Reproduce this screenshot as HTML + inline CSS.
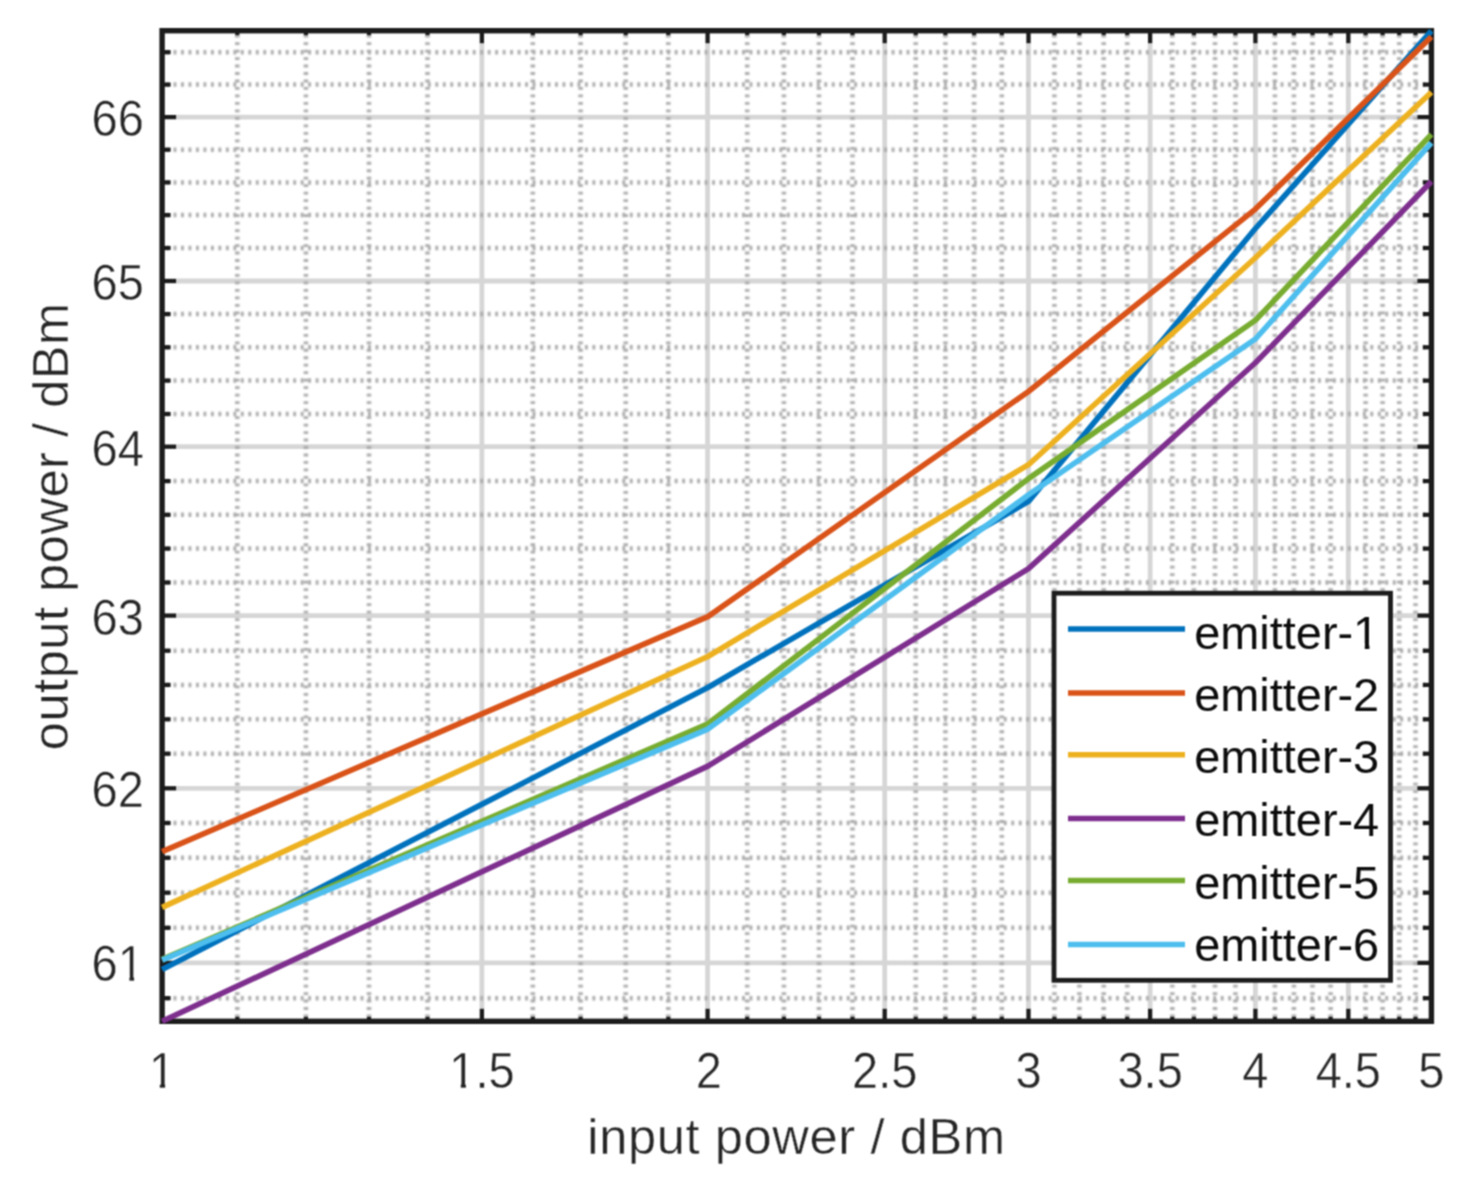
<!DOCTYPE html>
<html><head><meta charset="utf-8"><title>output power vs input power</title>
<style>html,body{margin:0;padding:0;background:#fff}body{width:1471px;height:1188px;overflow:hidden}svg{display:block}.t{font-family:"Liberation Sans",Arial,Helvetica,sans-serif}</style>
</head><body>
<svg width="1471" height="1188" viewBox="0 0 1471 1188">
<rect width="1471" height="1188" fill="#fff"/>
<filter id="b" x="0" y="0" width="1471" height="1188" filterUnits="userSpaceOnUse" color-interpolation-filters="sRGB"><feConvolveMatrix order="3" kernelMatrix="1 2 1 2 4 2 1 2 1" divisor="16" edgeMode="duplicate" preserveAlpha="false"/></filter>
<g filter="url(#b)">
<g stroke="#d6d6d6" stroke-width="4.8">
<line x1="481.9" y1="30.7" x2="481.9" y2="1021.3"/>
<line x1="707.6" y1="30.7" x2="707.6" y2="1021.3"/>
<line x1="884.7" y1="30.7" x2="884.7" y2="1021.3"/>
<line x1="1028.5" y1="30.7" x2="1028.5" y2="1021.3"/>
<line x1="1150.1" y1="30.7" x2="1150.1" y2="1021.3"/>
<line x1="1255.4" y1="30.7" x2="1255.4" y2="1021.3"/>
<line x1="1348.3" y1="30.7" x2="1348.3" y2="1021.3"/>
<line x1="162.1" y1="962.9" x2="1431.4" y2="962.9"/>
<line x1="162.1" y1="788.3" x2="1431.4" y2="788.3"/>
<line x1="162.1" y1="615.6" x2="1431.4" y2="615.6"/>
<line x1="162.1" y1="446.7" x2="1431.4" y2="446.7"/>
<line x1="162.1" y1="281.0" x2="1431.4" y2="281.0"/>
<line x1="162.1" y1="117.1" x2="1431.4" y2="117.1"/>
</g>
<g filter="url(#b)" stroke="#a9a9a9" stroke-width="4.5" stroke-dasharray="2.8 4.68">
<line x1="237.3" y1="34.7" x2="237.3" y2="1021.3"/>
<line x1="305.9" y1="34.7" x2="305.9" y2="1021.3"/>
<line x1="369.0" y1="34.7" x2="369.0" y2="1021.3"/>
<line x1="427.5" y1="34.7" x2="427.5" y2="1021.3"/>
<line x1="532.8" y1="34.7" x2="532.8" y2="1021.3"/>
<line x1="580.6" y1="34.7" x2="580.6" y2="1021.3"/>
<line x1="625.7" y1="34.7" x2="625.7" y2="1021.3"/>
<line x1="668.3" y1="34.7" x2="668.3" y2="1021.3"/>
<line x1="747.2" y1="34.7" x2="747.2" y2="1021.3"/>
<line x1="783.9" y1="34.7" x2="783.9" y2="1021.3"/>
<line x1="819.0" y1="34.7" x2="819.0" y2="1021.3"/>
<line x1="852.5" y1="34.7" x2="852.5" y2="1021.3"/>
<line x1="915.7" y1="34.7" x2="915.7" y2="1021.3"/>
<line x1="945.4" y1="34.7" x2="945.4" y2="1021.3"/>
<line x1="974.1" y1="34.7" x2="974.1" y2="1021.3"/>
<line x1="1001.8" y1="34.7" x2="1001.8" y2="1021.3"/>
<line x1="1054.4" y1="34.7" x2="1054.4" y2="1021.3"/>
<line x1="1079.4" y1="34.7" x2="1079.4" y2="1021.3"/>
<line x1="1103.7" y1="34.7" x2="1103.7" y2="1021.3"/>
<line x1="1127.2" y1="34.7" x2="1127.2" y2="1021.3"/>
<line x1="1172.3" y1="34.7" x2="1172.3" y2="1021.3"/>
<line x1="1193.9" y1="34.7" x2="1193.9" y2="1021.3"/>
<line x1="1215.0" y1="34.7" x2="1215.0" y2="1021.3"/>
<line x1="1235.4" y1="34.7" x2="1235.4" y2="1021.3"/>
<line x1="1274.9" y1="34.7" x2="1274.9" y2="1021.3"/>
<line x1="1293.9" y1="34.7" x2="1293.9" y2="1021.3"/>
<line x1="1312.5" y1="34.7" x2="1312.5" y2="1021.3"/>
<line x1="1330.6" y1="34.7" x2="1330.6" y2="1021.3"/>
<line x1="1365.6" y1="34.7" x2="1365.6" y2="1021.3"/>
<line x1="1382.6" y1="34.7" x2="1382.6" y2="1021.3"/>
<line x1="1399.2" y1="34.7" x2="1399.2" y2="1021.3"/>
<line x1="1415.5" y1="34.7" x2="1415.5" y2="1021.3"/>
<line x1="166.1" y1="998.2" x2="1431.4" y2="998.2"/>
<line x1="166.1" y1="927.8" x2="1431.4" y2="927.8"/>
<line x1="166.1" y1="892.7" x2="1431.4" y2="892.7"/>
<line x1="166.1" y1="857.8" x2="1431.4" y2="857.8"/>
<line x1="166.1" y1="823.0" x2="1431.4" y2="823.0"/>
<line x1="166.1" y1="753.7" x2="1431.4" y2="753.7"/>
<line x1="166.1" y1="719.3" x2="1431.4" y2="719.3"/>
<line x1="166.1" y1="684.9" x2="1431.4" y2="684.9"/>
<line x1="166.1" y1="650.7" x2="1431.4" y2="650.7"/>
<line x1="166.1" y1="582.5" x2="1431.4" y2="582.5"/>
<line x1="166.1" y1="548.6" x2="1431.4" y2="548.6"/>
<line x1="166.1" y1="514.8" x2="1431.4" y2="514.8"/>
<line x1="166.1" y1="481.1" x2="1431.4" y2="481.1"/>
<line x1="166.1" y1="414.0" x2="1431.4" y2="414.0"/>
<line x1="166.1" y1="380.6" x2="1431.4" y2="380.6"/>
<line x1="166.1" y1="347.3" x2="1431.4" y2="347.3"/>
<line x1="166.1" y1="314.1" x2="1431.4" y2="314.1"/>
<line x1="166.1" y1="248.0" x2="1431.4" y2="248.0"/>
<line x1="166.1" y1="215.1" x2="1431.4" y2="215.1"/>
<line x1="166.1" y1="182.4" x2="1431.4" y2="182.4"/>
<line x1="166.1" y1="149.7" x2="1431.4" y2="149.7"/>
<line x1="166.1" y1="84.6" x2="1431.4" y2="84.6"/>
<line x1="166.1" y1="52.2" x2="1431.4" y2="52.2"/>
</g>
<clipPath id="c"><rect x="159.1" y="27.7" width="1275.3" height="996.6"/></clipPath>
<g stroke="#1c1c1c" stroke-width="4.2">
<line x1="481.9" y1="1021.3" x2="481.9" y2="1008.8"/>
<line x1="481.9" y1="30.7" x2="481.9" y2="43.2"/>
<line x1="707.6" y1="1021.3" x2="707.6" y2="1008.8"/>
<line x1="707.6" y1="30.7" x2="707.6" y2="43.2"/>
<line x1="884.7" y1="1021.3" x2="884.7" y2="1008.8"/>
<line x1="884.7" y1="30.7" x2="884.7" y2="43.2"/>
<line x1="1028.5" y1="1021.3" x2="1028.5" y2="1008.8"/>
<line x1="1028.5" y1="30.7" x2="1028.5" y2="43.2"/>
<line x1="1150.1" y1="1021.3" x2="1150.1" y2="1008.8"/>
<line x1="1150.1" y1="30.7" x2="1150.1" y2="43.2"/>
<line x1="1255.4" y1="1021.3" x2="1255.4" y2="1008.8"/>
<line x1="1255.4" y1="30.7" x2="1255.4" y2="43.2"/>
<line x1="1348.3" y1="1021.3" x2="1348.3" y2="1008.8"/>
<line x1="1348.3" y1="30.7" x2="1348.3" y2="43.2"/>
<line x1="237.3" y1="1021.3" x2="237.3" y2="1016.8"/>
<line x1="237.3" y1="30.7" x2="237.3" y2="35.2"/>
<line x1="305.9" y1="1021.3" x2="305.9" y2="1016.8"/>
<line x1="305.9" y1="30.7" x2="305.9" y2="35.2"/>
<line x1="369.0" y1="1021.3" x2="369.0" y2="1016.8"/>
<line x1="369.0" y1="30.7" x2="369.0" y2="35.2"/>
<line x1="427.5" y1="1021.3" x2="427.5" y2="1016.8"/>
<line x1="427.5" y1="30.7" x2="427.5" y2="35.2"/>
<line x1="532.8" y1="1021.3" x2="532.8" y2="1016.8"/>
<line x1="532.8" y1="30.7" x2="532.8" y2="35.2"/>
<line x1="580.6" y1="1021.3" x2="580.6" y2="1016.8"/>
<line x1="580.6" y1="30.7" x2="580.6" y2="35.2"/>
<line x1="625.7" y1="1021.3" x2="625.7" y2="1016.8"/>
<line x1="625.7" y1="30.7" x2="625.7" y2="35.2"/>
<line x1="668.3" y1="1021.3" x2="668.3" y2="1016.8"/>
<line x1="668.3" y1="30.7" x2="668.3" y2="35.2"/>
<line x1="747.2" y1="1021.3" x2="747.2" y2="1016.8"/>
<line x1="747.2" y1="30.7" x2="747.2" y2="35.2"/>
<line x1="783.9" y1="1021.3" x2="783.9" y2="1016.8"/>
<line x1="783.9" y1="30.7" x2="783.9" y2="35.2"/>
<line x1="819.0" y1="1021.3" x2="819.0" y2="1016.8"/>
<line x1="819.0" y1="30.7" x2="819.0" y2="35.2"/>
<line x1="852.5" y1="1021.3" x2="852.5" y2="1016.8"/>
<line x1="852.5" y1="30.7" x2="852.5" y2="35.2"/>
<line x1="915.7" y1="1021.3" x2="915.7" y2="1016.8"/>
<line x1="915.7" y1="30.7" x2="915.7" y2="35.2"/>
<line x1="945.4" y1="1021.3" x2="945.4" y2="1016.8"/>
<line x1="945.4" y1="30.7" x2="945.4" y2="35.2"/>
<line x1="974.1" y1="1021.3" x2="974.1" y2="1016.8"/>
<line x1="974.1" y1="30.7" x2="974.1" y2="35.2"/>
<line x1="1001.8" y1="1021.3" x2="1001.8" y2="1016.8"/>
<line x1="1001.8" y1="30.7" x2="1001.8" y2="35.2"/>
<line x1="1054.4" y1="1021.3" x2="1054.4" y2="1016.8"/>
<line x1="1054.4" y1="30.7" x2="1054.4" y2="35.2"/>
<line x1="1079.4" y1="1021.3" x2="1079.4" y2="1016.8"/>
<line x1="1079.4" y1="30.7" x2="1079.4" y2="35.2"/>
<line x1="1103.7" y1="1021.3" x2="1103.7" y2="1016.8"/>
<line x1="1103.7" y1="30.7" x2="1103.7" y2="35.2"/>
<line x1="1127.2" y1="1021.3" x2="1127.2" y2="1016.8"/>
<line x1="1127.2" y1="30.7" x2="1127.2" y2="35.2"/>
<line x1="1172.3" y1="1021.3" x2="1172.3" y2="1016.8"/>
<line x1="1172.3" y1="30.7" x2="1172.3" y2="35.2"/>
<line x1="1193.9" y1="1021.3" x2="1193.9" y2="1016.8"/>
<line x1="1193.9" y1="30.7" x2="1193.9" y2="35.2"/>
<line x1="1215.0" y1="1021.3" x2="1215.0" y2="1016.8"/>
<line x1="1215.0" y1="30.7" x2="1215.0" y2="35.2"/>
<line x1="1235.4" y1="1021.3" x2="1235.4" y2="1016.8"/>
<line x1="1235.4" y1="30.7" x2="1235.4" y2="35.2"/>
<line x1="1274.9" y1="1021.3" x2="1274.9" y2="1016.8"/>
<line x1="1274.9" y1="30.7" x2="1274.9" y2="35.2"/>
<line x1="1293.9" y1="1021.3" x2="1293.9" y2="1016.8"/>
<line x1="1293.9" y1="30.7" x2="1293.9" y2="35.2"/>
<line x1="1312.5" y1="1021.3" x2="1312.5" y2="1016.8"/>
<line x1="1312.5" y1="30.7" x2="1312.5" y2="35.2"/>
<line x1="1330.6" y1="1021.3" x2="1330.6" y2="1016.8"/>
<line x1="1330.6" y1="30.7" x2="1330.6" y2="35.2"/>
<line x1="1365.6" y1="1021.3" x2="1365.6" y2="1016.8"/>
<line x1="1365.6" y1="30.7" x2="1365.6" y2="35.2"/>
<line x1="1382.6" y1="1021.3" x2="1382.6" y2="1016.8"/>
<line x1="1382.6" y1="30.7" x2="1382.6" y2="35.2"/>
<line x1="1399.2" y1="1021.3" x2="1399.2" y2="1016.8"/>
<line x1="1399.2" y1="30.7" x2="1399.2" y2="35.2"/>
<line x1="1415.5" y1="1021.3" x2="1415.5" y2="1016.8"/>
<line x1="1415.5" y1="30.7" x2="1415.5" y2="35.2"/>
<line x1="162.1" y1="962.9" x2="176.1" y2="962.9"/>
<line x1="1431.4" y1="962.9" x2="1417.4" y2="962.9"/>
<line x1="162.1" y1="788.3" x2="176.1" y2="788.3"/>
<line x1="1431.4" y1="788.3" x2="1417.4" y2="788.3"/>
<line x1="162.1" y1="615.6" x2="176.1" y2="615.6"/>
<line x1="1431.4" y1="615.6" x2="1417.4" y2="615.6"/>
<line x1="162.1" y1="446.7" x2="176.1" y2="446.7"/>
<line x1="1431.4" y1="446.7" x2="1417.4" y2="446.7"/>
<line x1="162.1" y1="281.0" x2="176.1" y2="281.0"/>
<line x1="1431.4" y1="281.0" x2="1417.4" y2="281.0"/>
<line x1="162.1" y1="117.1" x2="176.1" y2="117.1"/>
<line x1="1431.4" y1="117.1" x2="1417.4" y2="117.1"/>
<line x1="162.1" y1="998.2" x2="170.6" y2="998.2"/>
<line x1="1431.4" y1="998.2" x2="1422.9" y2="998.2"/>
<line x1="162.1" y1="927.8" x2="170.6" y2="927.8"/>
<line x1="1431.4" y1="927.8" x2="1422.9" y2="927.8"/>
<line x1="162.1" y1="892.7" x2="170.6" y2="892.7"/>
<line x1="1431.4" y1="892.7" x2="1422.9" y2="892.7"/>
<line x1="162.1" y1="857.8" x2="170.6" y2="857.8"/>
<line x1="1431.4" y1="857.8" x2="1422.9" y2="857.8"/>
<line x1="162.1" y1="823.0" x2="170.6" y2="823.0"/>
<line x1="1431.4" y1="823.0" x2="1422.9" y2="823.0"/>
<line x1="162.1" y1="753.7" x2="170.6" y2="753.7"/>
<line x1="1431.4" y1="753.7" x2="1422.9" y2="753.7"/>
<line x1="162.1" y1="719.3" x2="170.6" y2="719.3"/>
<line x1="1431.4" y1="719.3" x2="1422.9" y2="719.3"/>
<line x1="162.1" y1="684.9" x2="170.6" y2="684.9"/>
<line x1="1431.4" y1="684.9" x2="1422.9" y2="684.9"/>
<line x1="162.1" y1="650.7" x2="170.6" y2="650.7"/>
<line x1="1431.4" y1="650.7" x2="1422.9" y2="650.7"/>
<line x1="162.1" y1="582.5" x2="170.6" y2="582.5"/>
<line x1="1431.4" y1="582.5" x2="1422.9" y2="582.5"/>
<line x1="162.1" y1="548.6" x2="170.6" y2="548.6"/>
<line x1="1431.4" y1="548.6" x2="1422.9" y2="548.6"/>
<line x1="162.1" y1="514.8" x2="170.6" y2="514.8"/>
<line x1="1431.4" y1="514.8" x2="1422.9" y2="514.8"/>
<line x1="162.1" y1="481.1" x2="170.6" y2="481.1"/>
<line x1="1431.4" y1="481.1" x2="1422.9" y2="481.1"/>
<line x1="162.1" y1="414.0" x2="170.6" y2="414.0"/>
<line x1="1431.4" y1="414.0" x2="1422.9" y2="414.0"/>
<line x1="162.1" y1="380.6" x2="170.6" y2="380.6"/>
<line x1="1431.4" y1="380.6" x2="1422.9" y2="380.6"/>
<line x1="162.1" y1="347.3" x2="170.6" y2="347.3"/>
<line x1="1431.4" y1="347.3" x2="1422.9" y2="347.3"/>
<line x1="162.1" y1="314.1" x2="170.6" y2="314.1"/>
<line x1="1431.4" y1="314.1" x2="1422.9" y2="314.1"/>
<line x1="162.1" y1="248.0" x2="170.6" y2="248.0"/>
<line x1="1431.4" y1="248.0" x2="1422.9" y2="248.0"/>
<line x1="162.1" y1="215.1" x2="170.6" y2="215.1"/>
<line x1="1431.4" y1="215.1" x2="1422.9" y2="215.1"/>
<line x1="162.1" y1="182.4" x2="170.6" y2="182.4"/>
<line x1="1431.4" y1="182.4" x2="1422.9" y2="182.4"/>
<line x1="162.1" y1="149.7" x2="170.6" y2="149.7"/>
<line x1="1431.4" y1="149.7" x2="1422.9" y2="149.7"/>
<line x1="162.1" y1="84.6" x2="170.6" y2="84.6"/>
<line x1="1431.4" y1="84.6" x2="1422.9" y2="84.6"/>
<line x1="162.1" y1="52.2" x2="170.6" y2="52.2"/>
<line x1="1431.4" y1="52.2" x2="1422.9" y2="52.2"/>
</g>
<rect x="162.1" y="30.7" width="1269.3" height="990.6" fill="none" stroke="#1c1c1c" stroke-width="5.4"/>
<g clip-path="url(#c)" fill="none" stroke-width="5.6" stroke-linejoin="round">
<polyline stroke="#0072BD" points="162.1,969.6 707.9,687.5 1028.5,501.4 1255.4,228.5 1431.4,30.9"/>
<polyline stroke="#D95319" points="162.1,851.6 707.9,616.6 1028.5,391.5 1255.4,209.1 1431.4,36.8"/>
<polyline stroke="#EDB120" points="162.1,907.4 707.9,656.5 1028.5,464.7 1255.4,257.7 1431.4,92.2"/>
<polyline stroke="#7E2F8E" points="162.1,1021.3 707.9,766.1 1028.5,568.6 1255.4,362.8 1431.4,181.5"/>
<polyline stroke="#77AC30" points="162.1,959.4 707.9,723.8 1028.5,478.6 1255.4,320.3 1431.4,134.3"/>
<polyline stroke="#4DBEEE" points="162.1,960.2 707.9,729.1 1028.5,494.8 1255.4,339.0 1431.4,142.8"/>
</g>
<rect x="1054" y="593.2" width="336.5" height="387.1" fill="#fff" stroke="#1c1c1c" stroke-width="4.8"/>
<line x1="1068" y1="628.9" x2="1185" y2="628.9" stroke="#0072BD" stroke-width="5.5"/>
<line x1="1068" y1="693.0" x2="1185" y2="693.0" stroke="#D95319" stroke-width="5.5"/>
<line x1="1068" y1="754.8" x2="1185" y2="754.8" stroke="#EDB120" stroke-width="5.5"/>
<line x1="1068" y1="818.5" x2="1185" y2="818.5" stroke="#7E2F8E" stroke-width="5.5"/>
<line x1="1068" y1="880.5" x2="1185" y2="880.5" stroke="#77AC30" stroke-width="5.5"/>
<line x1="1068" y1="944.5" x2="1185" y2="944.5" stroke="#4DBEEE" stroke-width="5.5"/>
<g class="t" font-size="46" fill="#0c0c0c">
<text x="1194.2" y="648.9" textLength="185" lengthAdjust="spacingAndGlyphs">emitter-1</text>
<text x="1194.2" y="710.6" textLength="185" lengthAdjust="spacingAndGlyphs">emitter-2</text>
<text x="1194.2" y="772.9" textLength="185" lengthAdjust="spacingAndGlyphs">emitter-3</text>
<text x="1194.2" y="835.6" textLength="185" lengthAdjust="spacingAndGlyphs">emitter-4</text>
<text x="1194.2" y="899.0" textLength="185" lengthAdjust="spacingAndGlyphs">emitter-5</text>
<text x="1194.2" y="961.0" textLength="185" lengthAdjust="spacingAndGlyphs">emitter-6</text>
</g>
<g class="t" font-size="47" fill="#262626" stroke="#fff" stroke-width="0.45">
<text transform="translate(143.8 981.0) scale(1 1.045)" text-anchor="end">61</text>
<text transform="translate(143.8 806.5) scale(1 1.045)" text-anchor="end">62</text>
<text transform="translate(143.8 634.6) scale(1 1.045)" text-anchor="end">63</text>
<text transform="translate(143.8 466.2) scale(1 1.045)" text-anchor="end">64</text>
<text transform="translate(143.8 300.2) scale(1 1.045)" text-anchor="end">65</text>
<text transform="translate(143.8 135.7) scale(1 1.045)" text-anchor="end">66</text>
<text transform="translate(162.1 1087.7) scale(1 1.045)" text-anchor="middle">1</text>
<text transform="translate(481.9 1087.7) scale(1 1.045)" text-anchor="middle">1.5</text>
<text transform="translate(708.8 1087.7) scale(1 1.045)" text-anchor="middle">2</text>
<text transform="translate(884.7 1087.7) scale(1 1.045)" text-anchor="middle">2.5</text>
<text transform="translate(1028.5 1087.7) scale(1 1.045)" text-anchor="middle">3</text>
<text transform="translate(1150.1 1087.7) scale(1 1.045)" text-anchor="middle">3.5</text>
<text transform="translate(1255.4 1087.7) scale(1 1.045)" text-anchor="middle">4</text>
<text transform="translate(1348.3 1087.7) scale(1 1.045)" text-anchor="middle">4.5</text>
<text transform="translate(1431.4 1087.7) scale(1 1.045)" text-anchor="middle">5</text>
</g>
<rect x="149.5" y="1082.3" width="10.3" height="8" fill="#fff"/>
<rect x="165.1" y="1082.3" width="10.4" height="8" fill="#fff"/>
<rect x="449.5" y="1082.3" width="11.3" height="8" fill="#fff"/>
<rect x="465.9" y="1082.3" width="10.1" height="8" fill="#fff"/>
<rect x="118.5" y="975.6" width="10.9" height="8" fill="#fff"/>
<rect x="134.1" y="975.6" width="11.4" height="8" fill="#fff"/>
<rect x="1353.9" y="643.5" width="10.9" height="8" fill="#fff"/>
<rect x="1369.4" y="643.5" width="11.0" height="8" fill="#fff"/>
<g class="t" font-size="50.6" fill="#262626" stroke="#fff" stroke-width="0.45">
<text x="796.2" y="1154.1" text-anchor="middle" textLength="417.8" lengthAdjust="spacing">input power / dBm</text>
<text transform="translate(67.9 526.5) rotate(-90)" text-anchor="middle" textLength="447.5" lengthAdjust="spacing">output power / dBm</text>
</g>
</g>
</svg>
</body></html>
